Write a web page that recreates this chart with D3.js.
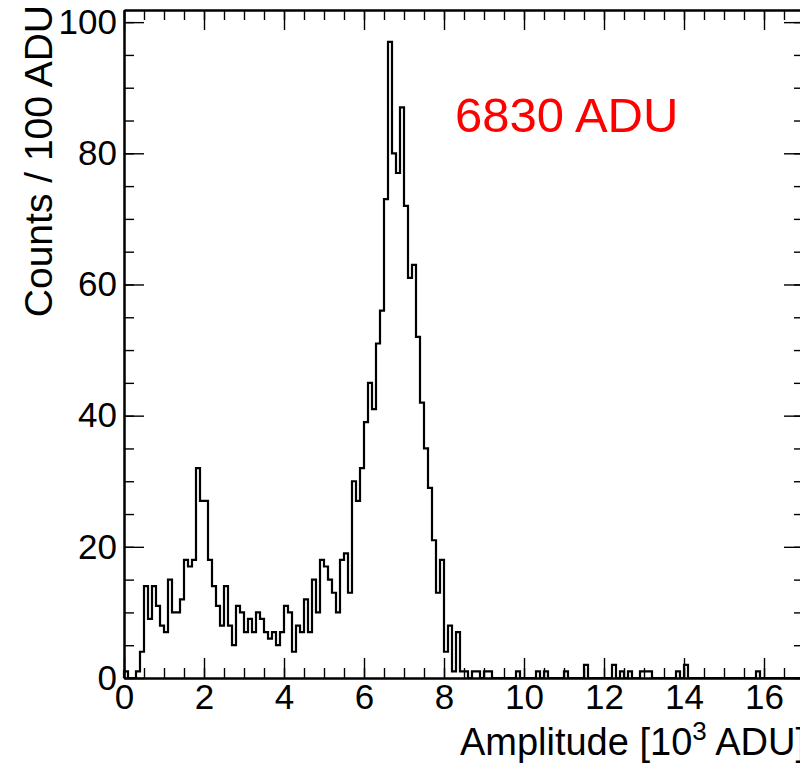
<!DOCTYPE html>
<html>
<head>
<meta charset="utf-8">
<script src="https://cdn.jsdelivr.net/npm/d3@7/dist/d3.min.js"></script>
<style>
  body { margin: 0; background: #fff; }
  svg text { font-family: "Liberation Sans", Arial, Helvetica, sans-serif; }
</style>
</head>
<body>
<svg id="chart" width="800" height="765"></svg>
<script>
var BIN_WIDTH = 0.1; // 100 ADU, axis is in 10^3 ADU
var X_MAX = 17;
var Y_MAX = 101.85;

// counts per 100 ADU bin, starting at 0
var counts = [
  1, 0, 0, 1, 4, 14, 9, 14, 11, 8,
  7, 15, 10, 10, 12, 18, 17, 18, 32, 27,
  27, 18, 14, 11, 8, 14, 8, 5, 11, 10,
  7, 9, 7, 10, 9, 7, 6, 7, 5, 7,
  11, 10, 4, 8, 7, 12, 7, 15, 10, 18,
  17, 15, 13, 10, 18, 19, 13, 30, 27, 32,
  39, 45, 41, 51, 56, 73, 97, 80, 77, 87,
  72, 61, 63, 52, 42, 35, 29, 21, 13, 18,
  4, 8, 1, 7, 1, 1, 0, 1, 1, 0,
  1, 1, 0, 0, 0, 0, 0, 0, 1, 0,
  0, 0, 0, 1, 0, 1, 0, 0, 0, 0,
  1, 0, 0, 0, 0, 2, 0, 0, 0, 0,
  0, 0, 2, 0, 1, 0, 1, 0, 0, 1,
  1, 1, 0, 0, 0, 0, 0, 0, 1, 0,
  2, 0, 0, 0, 0, 0, 0, 0, 0, 0,
  0, 0, 0, 0, 0, 0, 0, 0, 1, 0,
  0, 0, 0, 0, 0, 0, 0, 0, 0, 0
];

var xMajorTicks = [0, 2, 4, 6, 8, 10, 12, 14, 16];
var xMinorTicks = d3.range(0, X_MAX + 0.01, 0.5);
var yMajorTicks = [0, 20, 40, 60, 80, 100];
var yMinorTicks = d3.range(0, Y_MAX, 5);

var peakLabel = '6830 ADU';
var yTitle = 'Counts / 100 ADU';

var svg = d3.select('#chart');

var x = d3.scaleLinear().domain([0, X_MAX]).range([124, 804]);
var y = d3.scaleLinear().domain([0, Y_MAX]).range([678, 10]);

var FONT = 35;

function styleAxis(g) {
  g.select('.domain').attr('stroke', '#000').attr('stroke-width', 2);
  g.selectAll('.tick line').attr('stroke', '#000').attr('stroke-width', 1.4);
  g.selectAll('.tick text').attr('fill', '#000').style('font-size', FONT + 'px');
}

// minor ticks first, then major ticks with labels
svg.append('g')
    .attr('transform', 'translate(0,678)')
    .call(d3.axisBottom(x).tickValues(xMinorTicks).tickSize(-10).tickSizeOuter(0).tickFormat(''))
    .call(styleAxis);
svg.append('g')
    .attr('transform', 'translate(0,678)')
    .call(d3.axisBottom(x).tickValues(xMajorTicks).tickSize(-20).tickSizeOuter(0).tickPadding(6).tickFormat(d3.format('d')))
    .call(styleAxis);

svg.append('g')
    .attr('transform', 'translate(0,10)')
    .call(d3.axisTop(x).tickValues(xMinorTicks).tickSize(-10).tickSizeOuter(0).tickFormat(''))
    .call(styleAxis);
svg.append('g')
    .attr('transform', 'translate(0,10)')
    .call(d3.axisTop(x).tickValues(xMajorTicks).tickSize(-20).tickSizeOuter(0).tickFormat(''))
    .call(styleAxis);

svg.append('g')
    .attr('transform', 'translate(124,0)')
    .call(d3.axisLeft(y).tickValues(yMinorTicks).tickSize(-10).tickSizeOuter(0).tickFormat(''))
    .call(styleAxis);
svg.append('g')
    .attr('transform', 'translate(124,0)')
    .call(d3.axisLeft(y).tickValues(yMajorTicks).tickSize(-20).tickSizeOuter(0).tickPadding(7).tickFormat(d3.format('d')))
    .call(styleAxis);

svg.append('g')
    .attr('transform', 'translate(804,0)')
    .call(d3.axisRight(y).tickValues(yMinorTicks).tickSize(-10).tickSizeOuter(0).tickFormat(''))
    .call(styleAxis);
svg.append('g')
    .attr('transform', 'translate(804,0)')
    .call(d3.axisRight(y).tickValues(yMajorTicks).tickSize(-20).tickSizeOuter(0).tickFormat(''))
    .call(styleAxis);

// histogram outline
var pts = [[0, 0]];
counts.forEach(function (c, i) { pts.push([i * BIN_WIDTH, c]); });
pts.push([counts.length * BIN_WIDTH, counts[counts.length - 1]]);
pts.push([counts.length * BIN_WIDTH, 0]);

var line = d3.line()
    .x(function (d) { return x(d[0]); })
    .y(function (d) { return y(d[1]); })
    .curve(d3.curveStepAfter);

svg.append('path')
    .datum(pts)
    .attr('d', line)
    .attr('fill', 'none')
    .attr('stroke', '#000')
    .attr('stroke-width', 2.2);

// axis titles
var xt = svg.append('text')
    .attr('x', 806)
    .attr('y', 755)
    .attr('text-anchor', 'end')
    .style('font-size', '38px');
xt.append('tspan').text('Amplitude [10');
xt.append('tspan').attr('dy', -15).style('font-size', '26px').text('3');
xt.append('tspan').attr('dy', 15).text(' ADU]');

svg.append('text')
    .attr('transform', 'translate(52,5) rotate(-90)')
    .attr('text-anchor', 'end')
    .style('font-size', '39px')
    .text(yTitle);

svg.append('text')
    .attr('x', 455)
    .attr('y', 132)
    .attr('fill', '#ff0000')
    .style('font-size', '49px')
    .text(peakLabel);
</script>
</body>
</html>
